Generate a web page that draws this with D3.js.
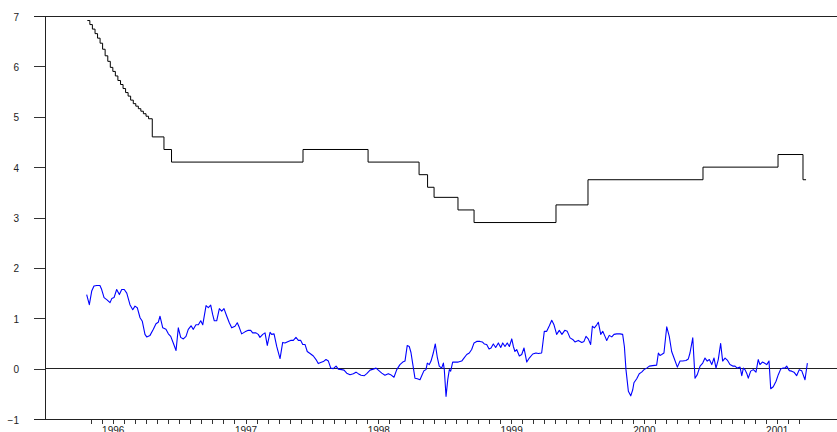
<!DOCTYPE html>
<html>
<head>
<meta charset="utf-8">
<script src="https://cdn.jsdelivr.net/npm/d3@7"></script>
<style>
    body { margin: 0; background: #fff; }
    svg { display: block; font-family: Arial, "Liberation Sans", sans-serif; }
    .axis text { font-size: 10px; fill: #222; }
    .axis line { stroke: #333; shape-rendering: crispEdges; }
    .frame { stroke: #222; shape-rendering: crispEdges; }
    .chart-line { fill: none; }
</style>
</head>
<body>
<svg id="chart"></svg>
<script>
// decimal year, rate (step series)
const policyRate = [
    [1996.309, 6.91], [1996.328, 6.83], [1996.347, 6.74], [1996.367, 6.65], [1996.386, 6.56],
    [1996.405, 6.46], [1996.424, 6.34], [1996.443, 6.21], [1996.463, 6.10], [1996.482, 5.98],
    [1996.501, 5.90], [1996.520, 5.81], [1996.539, 5.72], [1996.559, 5.64], [1996.578, 5.56],
    [1996.597, 5.48], [1996.616, 5.41], [1996.635, 5.33], [1996.655, 5.26], [1996.674, 5.21],
    [1996.693, 5.16], [1996.712, 5.11], [1996.731, 5.06], [1996.751, 5.01], [1996.770, 4.96],
    [1996.798, 4.60], [1996.886, 4.35], [1996.943, 4.10], [1997.933, 4.35], [1998.423, 4.10],
    [1998.807, 3.85], [1998.871, 3.60], [1998.920, 3.40], [1999.100, 3.15], [1999.221, 2.90],
    [1999.838, 3.25], [2000.079, 3.75], [2000.945, 4.00], [2001.510, 4.25], [2001.698, 3.75],
    [2001.721, 3.75]
];

// decimal year, spread
const spread = [
    [1996.304, 1.47], [1996.324, 1.27], [1996.342, 1.54], [1996.359, 1.64], [1996.380, 1.65],
    [1996.404, 1.65], [1996.417, 1.57], [1996.435, 1.41], [1996.455, 1.37], [1996.480, 1.31],
    [1996.493, 1.39], [1996.510, 1.41], [1996.530, 1.57], [1996.550, 1.47], [1996.568, 1.57],
    [1996.587, 1.57], [1996.606, 1.50], [1996.630, 1.27], [1996.651, 1.17], [1996.668, 1.24],
    [1996.685, 1.21], [1996.706, 1.01], [1996.723, 0.94], [1996.743, 0.68], [1996.756, 0.63],
    [1996.781, 0.66], [1996.806, 0.78], [1996.826, 0.89], [1996.843, 0.92], [1996.856, 1.04],
    [1996.877, 0.81], [1996.901, 0.78], [1996.919, 0.69], [1996.937, 0.64], [1996.956, 0.51],
    [1996.977, 0.36], [1996.994, 0.81], [1997.012, 0.62], [1997.032, 0.59], [1997.052, 0.64],
    [1997.069, 0.78], [1997.090, 0.85], [1997.107, 0.78], [1997.127, 0.87], [1997.145, 0.87],
    [1997.163, 0.95], [1997.178, 0.87], [1997.203, 1.25], [1997.220, 1.21], [1997.238, 1.26],
    [1997.253, 1.07], [1997.265, 0.95], [1997.283, 0.95], [1997.303, 1.19], [1997.321, 1.14],
    [1997.338, 1.19], [1997.359, 1.04], [1997.378, 0.91], [1997.396, 0.81], [1997.421, 0.84],
    [1997.438, 0.91], [1997.453, 0.82], [1997.471, 0.69], [1997.496, 0.73], [1997.521, 0.76],
    [1997.539, 0.76], [1997.554, 0.71], [1997.579, 0.71], [1997.596, 0.68], [1997.609, 0.62],
    [1997.630, 0.68], [1997.647, 0.71], [1997.664, 0.46], [1997.685, 0.72], [1997.697, 0.68],
    [1997.715, 0.69], [1997.735, 0.44], [1997.760, 0.20], [1997.780, 0.52], [1997.797, 0.51],
    [1997.822, 0.54], [1997.840, 0.56], [1997.860, 0.56], [1997.880, 0.62], [1997.898, 0.56],
    [1997.916, 0.56], [1997.931, 0.48], [1997.948, 0.48], [1997.965, 0.34], [1997.986, 0.30],
    [1998.011, 0.25], [1998.031, 0.18], [1998.048, 0.10], [1998.066, 0.12], [1998.086, 0.14],
    [1998.106, 0.18], [1998.124, 0.15], [1998.142, 0.01], [1998.161, 0.00], [1998.182, 0.05],
    [1998.199, -0.01], [1998.224, -0.02], [1998.242, -0.03], [1998.262, -0.09], [1998.287, -0.12],
    [1998.312, -0.10], [1998.332, -0.07], [1998.349, -0.10], [1998.370, -0.13], [1998.395, -0.14],
    [1998.413, -0.10], [1998.438, -0.03], [1998.462, -0.01], [1998.483, 0.01], [1998.500, -0.03],
    [1998.526, -0.09], [1998.550, -0.13], [1998.575, -0.10], [1998.593, -0.12], [1998.618, -0.17],
    [1998.639, -0.02], [1998.663, 0.08], [1998.684, 0.13], [1998.701, 0.15], [1998.718, 0.46],
    [1998.733, 0.44], [1998.746, 0.32], [1998.759, 0.10], [1998.776, -0.19], [1998.794, -0.20],
    [1998.814, -0.22], [1998.827, -0.14], [1998.844, -0.04], [1998.859, -0.02], [1998.869, 0.11],
    [1998.884, 0.08], [1998.897, 0.15], [1998.914, 0.31], [1998.929, 0.49], [1998.944, 0.23],
    [1998.959, 0.05], [1998.977, 0.01], [1998.990, 0.11], [1998.997, -0.02], [1999.010, -0.55],
    [1999.023, -0.22], [1999.035, -0.02], [1999.045, -0.05], [1999.060, 0.13], [1999.078, 0.13],
    [1999.102, 0.13], [1999.128, 0.15], [1999.145, 0.21], [1999.166, 0.28], [1999.185, 0.31],
    [1999.203, 0.38], [1999.221, 0.51], [1999.241, 0.54], [1999.266, 0.54], [1999.283, 0.53],
    [1999.298, 0.49], [1999.316, 0.48], [1999.334, 0.39], [1999.349, 0.41], [1999.366, 0.49],
    [1999.384, 0.42], [1999.404, 0.51], [1999.422, 0.42], [1999.437, 0.51], [1999.454, 0.44],
    [1999.471, 0.51], [1999.487, 0.44], [1999.505, 0.59], [1999.517, 0.44], [1999.529, 0.34],
    [1999.542, 0.38], [1999.562, 0.25], [1999.580, 0.28], [1999.597, 0.41], [1999.618, 0.13],
    [1999.637, 0.21], [1999.663, 0.29], [1999.687, 0.31], [1999.705, 0.30], [1999.730, 0.31],
    [1999.750, 0.74], [1999.768, 0.74], [1999.788, 0.85], [1999.806, 0.96], [1999.823, 0.87],
    [1999.843, 0.68], [1999.863, 0.76], [1999.883, 0.68], [1999.904, 0.76], [1999.923, 0.74],
    [1999.944, 0.61], [1999.964, 0.58], [1999.981, 0.53], [2000.006, 0.56], [2000.032, 0.52],
    [2000.049, 0.54], [2000.064, 0.64], [2000.081, 0.59], [2000.099, 0.48], [2000.112, 0.84],
    [2000.127, 0.81], [2000.145, 0.87], [2000.157, 0.92], [2000.175, 0.68], [2000.190, 0.74],
    [2000.207, 0.64], [2000.220, 0.56], [2000.239, 0.66], [2000.258, 0.63], [2000.275, 0.68],
    [2000.295, 0.69], [2000.320, 0.69], [2000.340, 0.68], [2000.353, 0.44], [2000.365, -0.02],
    [2000.383, -0.45], [2000.401, -0.54], [2000.416, -0.42], [2000.425, -0.28], [2000.446, -0.20],
    [2000.465, -0.10], [2000.483, -0.07], [2000.501, -0.02], [2000.521, 0.01], [2000.541, 0.05],
    [2000.566, 0.06], [2000.596, 0.07], [2000.609, 0.31], [2000.621, 0.26], [2000.634, 0.28],
    [2000.651, 0.31], [2000.672, 0.83], [2000.691, 0.64], [2000.709, 0.34], [2000.727, 0.21],
    [2000.752, 0.03], [2000.772, 0.15], [2000.792, 0.15], [2000.817, 0.16], [2000.834, 0.19],
    [2000.847, 0.31], [2000.868, 0.61], [2000.885, -0.19], [2000.902, -0.12], [2000.923, 0.05],
    [2000.943, 0.11], [2000.960, 0.21], [2000.977, 0.15], [2000.993, 0.18], [2001.011, 0.08],
    [2001.028, 0.21], [2001.043, 0.01], [2001.060, 0.18], [2001.078, 0.50], [2001.093, 0.15],
    [2001.111, 0.21], [2001.128, 0.17], [2001.148, 0.08], [2001.169, 0.05], [2001.186, 0.05],
    [2001.203, 0.01], [2001.224, 0.03], [2001.237, -0.14], [2001.249, 0.01], [2001.261, -0.02],
    [2001.274, -0.09], [2001.286, -0.19], [2001.304, -0.05], [2001.324, -0.02], [2001.344, -0.07],
    [2001.361, 0.18], [2001.374, 0.08], [2001.392, 0.13], [2001.407, 0.11], [2001.425, 0.08],
    [2001.442, 0.15], [2001.455, -0.40], [2001.474, -0.36], [2001.495, -0.25], [2001.512, -0.12],
    [2001.530, -0.01], [2001.545, 0.01], [2001.562, 0.01], [2001.575, 0.05], [2001.595, -0.04],
    [2001.613, -0.05], [2001.630, -0.07], [2001.650, -0.14], [2001.670, -0.02], [2001.688, -0.04],
    [2001.713, -0.22], [2001.731, 0.11]
];

const yTicks = [-1, 0, 1, 2, 3, 4, 5, 6, 7];
const yearLabels = [1996, 1997, 1998, 1999, 2000, 2001];
// monthly tick marks, May 1996 .. Sep 2001
const firstTickMonth = 1996 + 4 / 12;
const tickMonthCount = 65;

class RateChart {
    constructor(_config) {
        this.config = {
            parentElement: _config.parentElement,
            containerWidth: _config.containerWidth || 837,
            containerHeight: _config.containerHeight || 432,
            margin: { top: 16, right: 0, bottom: 13, left: 45 }
        }
        this.initVis();
    }

    initVis() {
        let vis = this;

        vis.height = vis.config.containerHeight - vis.config.margin.top - vis.config.margin.bottom;

        vis.svg = d3.select(vis.config.parentElement)
            .attr('width', vis.config.containerWidth)
            .attr('height', vis.config.containerHeight);

        // mid-year labels sit on the July tick
        vis.xScale = d3.scaleLinear()
            .domain([1996.5, 2001.5])
            .range([112.7, 776.7]);

        vis.yScale = d3.scaleLinear()
            .domain([-1, 7])
            .range([vis.config.margin.top + vis.height, vis.config.margin.top]);

        vis.updateVis();
    }

    updateVis() {
        let vis = this;

        vis.monthTicks = d3.range(tickMonthCount).map(i => firstTickMonth + i / 12);

        vis.line = d3.line()
            .x(d => vis.xScale(d[0]))
            .y(d => vis.yScale(d[1]));

        vis.stepLine = d3.line()
            .curve(d3.curveStepAfter)
            .x(d => vis.xScale(d[0]))
            .y(d => vis.yScale(d[1]));

        vis.renderVis();
    }

    renderVis() {
        let vis = this;
        const left = vis.config.margin.left;
        const right = vis.config.containerWidth;
        const y0 = vis.yScale(-1);

        // y axis
        const yAxis = d3.axisLeft(vis.yScale)
            .tickValues(yTicks)
            .tickSize(11)
            .tickSizeOuter(0)
            .tickPadding(15);

        const yAxisG = vis.svg.append('g')
            .attr('class', 'axis y-axis')
            .attr('transform', `translate(${left},0)`)
            .call(yAxis);
        yAxisG.select('.domain').remove();
        yAxisG.selectAll('text').attr('dy', '0.4em');

        // bottom month ticks
        const xAxis = d3.axisBottom(vis.xScale)
            .tickValues(vis.monthTicks)
            .tickSize(5)
            .tickSizeOuter(0)
            .tickFormat('');

        const xAxisG = vis.svg.append('g')
            .attr('class', 'axis x-axis')
            .attr('transform', `translate(0,${y0})`)
            .call(xAxis);
        xAxisG.select('.domain').remove();

        const yearAxis = d3.axisBottom(vis.xScale)
            .tickValues(yearLabels.map(d => d + 0.5))
            .tickSize(0)
            .tickPadding(8)
            .tickFormat(d => Math.floor(d));

        const yearG = vis.svg.append('g')
            .attr('class', 'axis year-axis')
            .attr('transform', `translate(0,${y0})`)
            .call(yearAxis);
        yearG.select('.domain').remove();

        // frame lines: left axis, top, bottom, zero
        vis.svg.append('line').attr('class', 'frame')
            .attr('x1', left).attr('x2', left)
            .attr('y1', vis.yScale(7)).attr('y2', y0);
        vis.svg.append('line').attr('class', 'frame')
            .attr('x1', left - 11).attr('x2', right)
            .attr('y1', vis.yScale(7)).attr('y2', vis.yScale(7));
        vis.svg.append('line').attr('class', 'frame')
            .attr('x1', left - 11).attr('x2', right)
            .attr('y1', y0).attr('y2', y0);
        vis.svg.append('line').attr('class', 'frame')
            .attr('x1', left).attr('x2', right)
            .attr('y1', vis.yScale(0)).attr('y2', vis.yScale(0));

        vis.svg.append('path')
            .datum(policyRate)
            .attr('class', 'chart-line rate')
            .attr('stroke', '#000')
            .attr('stroke-width', 1)
            .attr('d', vis.stepLine);

        vis.svg.append('path')
            .datum(spread)
            .attr('class', 'chart-line spread')
            .attr('stroke', '#0000ff')
            .attr('stroke-width', 1.1)
            .attr('stroke-linejoin', 'round')
            .attr('d', vis.line);
    }
}

new RateChart({ parentElement: '#chart' });
</script>
</body>
</html>
